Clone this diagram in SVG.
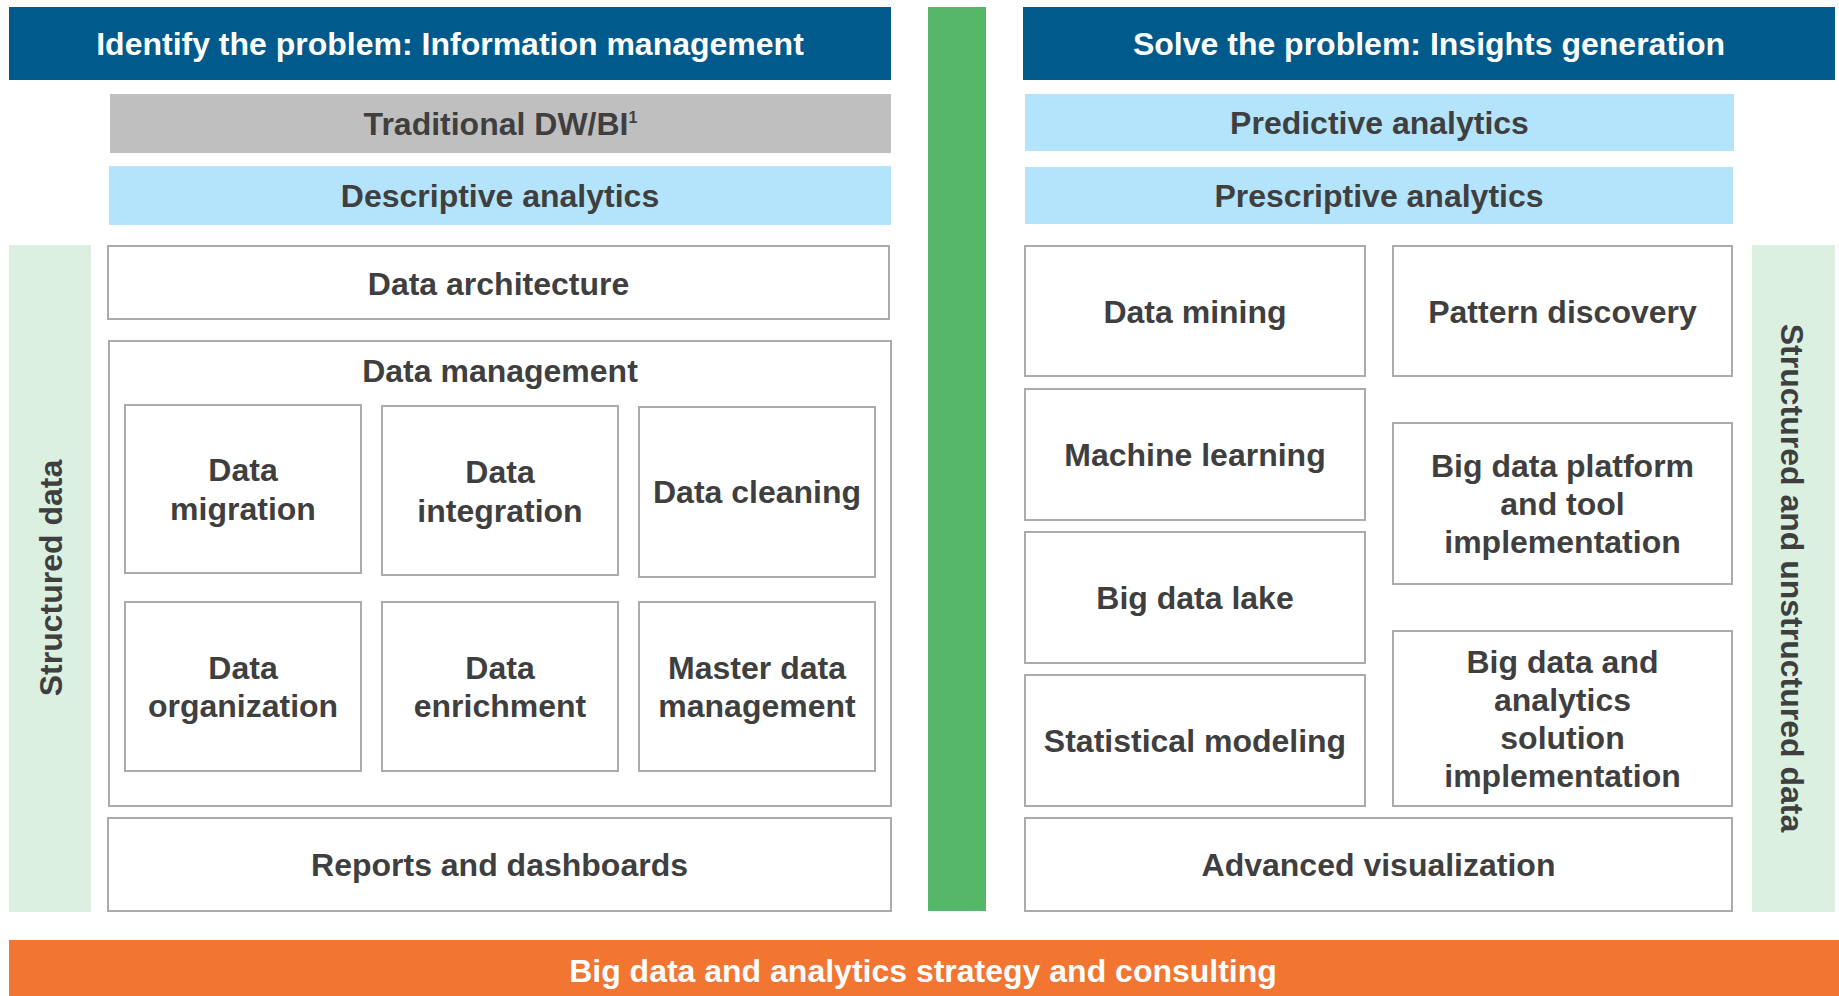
<svg xmlns="http://www.w3.org/2000/svg" width="1839" height="996" viewBox="0 0 1839 996">
<style>
text{font-family:"Liberation Sans",Arial,sans-serif;font-weight:bold;font-size:32px;fill:#3F3F3F;text-anchor:middle}
.hdr rect{fill:#005A8C}
.hdr text,.orange text{fill:#FFFFFF}
.gray rect{fill:#BFBFBF}
.lb rect{fill:#B4E4FB}
.lg rect{fill:#DCF0E1}
.box rect{fill:#FFFFFF;stroke:#ABABAB;stroke-width:2}
.orange rect{fill:#F27632}
.bar rect{fill:#55B868}
</style>
<rect width="1839" height="996" fill="#FFFFFF"/>

<g id="hdr-left" class="hdr"><rect x="9" y="7" width="882" height="73"/><text x="450" y="55">Identify the problem: Information management</text></g>
<g id="traditional" class="gray"><rect x="110" y="94" width="781" height="59"/><text x="500.5" y="135">Traditional DW/BI<tspan dy="-12" font-size="16">1</tspan></text></g>
<g id="descriptive" class="lb"><rect x="109" y="166" width="782" height="59"/><text x="500" y="207">Descriptive analytics</text></g>
<g id="structured-left" class="lg"><rect x="9" y="245" width="82" height="667"/><text transform="translate(62,578) rotate(-90)">Structured data</text></g>
<g id="data-architecture" class="box"><rect x="108" y="246" width="781" height="73"/><text x="498.5" y="295">Data architecture</text></g>
<g id="data-management" class="box"><rect x="109" y="341" width="782" height="465"/><text x="500" y="382">Data management</text>
<g id="data-migration"><rect x="125" y="405" width="236" height="168"/><text x="243" y="481">Data</text><text x="243" y="520">migration</text></g>
<g id="data-integration"><rect x="382" y="406" width="236" height="169"/><text x="500" y="483">Data</text><text x="500" y="522">integration</text></g>
<g id="data-cleaning"><rect x="639" y="407" width="236" height="170"/><text x="757" y="503">Data cleaning</text></g>
<g id="data-organization"><rect x="125" y="602" width="236" height="169"/><text x="243" y="679">Data</text><text x="243" y="717">organization</text></g>
<g id="data-enrichment"><rect x="382" y="602" width="236" height="169"/><text x="500" y="679">Data</text><text x="500" y="717">enrichment</text></g>
<g id="master-data"><rect x="639" y="602" width="236" height="169"/><text x="757" y="679">Master data</text><text x="757" y="717">management</text></g>
</g>
<g id="reports" class="box"><rect x="108" y="818" width="783" height="93"/><text x="499.5" y="876">Reports and dashboards</text></g>

<g id="center-bar" class="bar"><rect x="928" y="7" width="58" height="904"/></g>

<g id="hdr-right" class="hdr"><rect x="1023" y="7" width="812" height="73"/><text x="1429" y="55">Solve the problem: Insights generation</text></g>
<g id="predictive" class="lb"><rect x="1025" y="94" width="709" height="57"/><text x="1379.5" y="134">Predictive analytics</text></g>
<g id="prescriptive" class="lb"><rect x="1025" y="167" width="708" height="57"/><text x="1379" y="207">Prescriptive analytics</text></g>
<g id="data-mining" class="box"><rect x="1025" y="246" width="340" height="130"/><text x="1195" y="323">Data mining</text></g>
<g id="pattern-discovery" class="box"><rect x="1393" y="246" width="339" height="130"/><text x="1562.5" y="323">Pattern discovery</text></g>
<g id="machine-learning" class="box"><rect x="1025" y="389" width="340" height="131"/><text x="1195" y="466">Machine learning</text></g>
<g id="big-data-platform" class="box"><rect x="1393" y="423" width="339" height="161"/><text x="1562.5" y="477">Big data platform</text><text x="1562.5" y="515">and tool</text><text x="1562.5" y="553">implementation</text></g>
<g id="big-data-lake" class="box"><rect x="1025" y="532" width="340" height="131"/><text x="1195" y="609">Big data lake</text></g>
<g id="statistical-modeling" class="box"><rect x="1025" y="675" width="340" height="131"/><text x="1195" y="752">Statistical modeling</text></g>
<g id="big-data-solution" class="box"><rect x="1393" y="631" width="339" height="175"/><text x="1562.5" y="673">Big data and</text><text x="1562.5" y="711">analytics</text><text x="1562.5" y="749">solution</text><text x="1562.5" y="787">implementation</text></g>
<g id="advanced-visualization" class="box"><rect x="1025" y="818" width="707" height="93"/><text x="1378.5" y="876">Advanced visualization</text></g>
<g id="structured-right" class="lg"><rect x="1752" y="245" width="83" height="667"/><text transform="translate(1781,578) rotate(90)">Structured and unstructured data</text></g>

<g id="strategy" class="orange"><rect x="9" y="940" width="1830" height="56"/><text x="923" y="982">Big data and analytics strategy and consulting</text></g>

<g id="connectors"></g>
</svg>
